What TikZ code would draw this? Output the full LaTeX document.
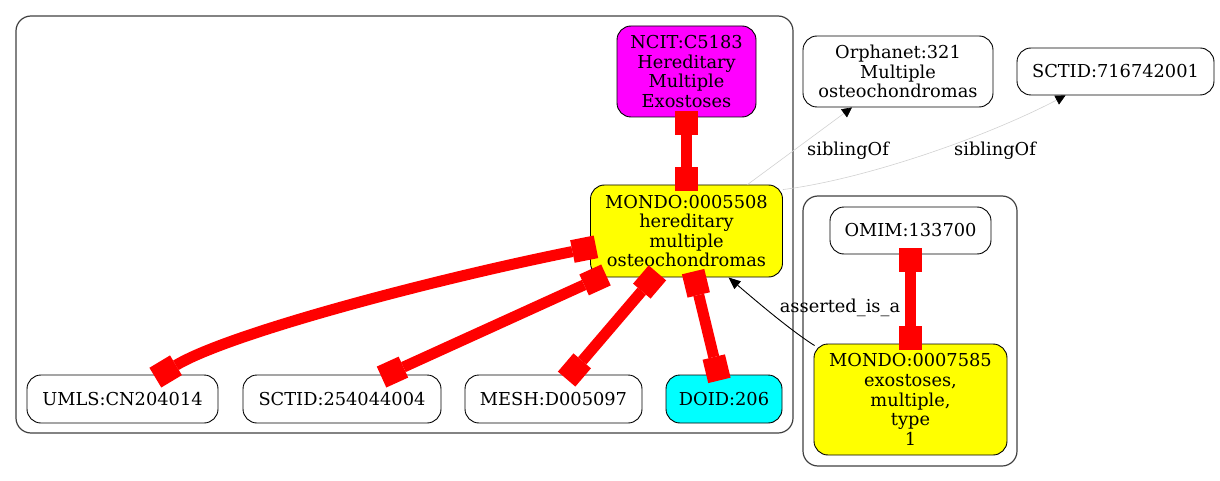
\documentclass[tikz,border=0pt]{standalone}
\usepackage{fontspec}
\setmainfont{DejaVu Serif}
\usetikzlibrary{arrows.meta}
\definecolor{gvmagenta}{RGB}{255,0,255}
\definecolor{gvyellow}{RGB}{255,255,0}
\definecolor{gvcyan}{RGB}{0,255,255}
\definecolor{gvred}{RGB}{255,0,0}
\begin{document}
\begin{tikzpicture}[x=1pt,y=-1pt,
  every node/.style={font=\fontsize{17.8}{19.6}\selectfont},
  nd/.style 2 args={draw=black,line width=0.9pt,rounded corners=14pt,align=center,inner sep=0pt,minimum width=#1,minimum height=#2},
  cluster/.style={draw=black!75,line width=1.2pt,rounded corners=15pt},
  redlink/.style={draw=gvred,line width=11pt,
    {Square[length=24pt,width=23pt,line width=0pt]}-{Square[length=24pt,width=23pt,line width=0pt]},
    shorten <=-6pt,shorten >=-6pt},
  sib/.style={draw=black!18,line width=0.6pt,-{Triangle[length=10pt,width=10pt,color=black]}},
  isa/.style={draw=black,line width=0.9pt,-{Triangle[length=12pt,width=10pt]}},
  lbl/.style={inner sep=0pt}
]
\useasboundingbox (0,0) rectangle (1220,481);
% clusters
\draw[cluster] (16,16) rectangle (793,433);
\draw[cluster] (803,196) rectangle (1017,466);
% nodes
\node[nd={139pt}{91pt},fill=gvmagenta] (ncit) at (686.5,71.5) {NCIT:C5183\\Hereditary\\Multiple\\Exostoses};
\node[nd={192pt}{92pt},fill=gvyellow] (m) at (686.5,231) {MONDO:0005508\\hereditary\\multiple\\osteochondromas};
\node[nd={191pt}{48pt}] (umls) at (122.5,399) {UMLS:CN204014};
\node[nd={198pt}{48pt}] (sct) at (342,399) {SCTID:254044004};
\node[nd={177pt}{48pt}] (mesh) at (553.5,399) {MESH:D005097};
\node[nd={116pt}{48pt},fill=gvcyan] (doid) at (724,399) {DOID:206};
\node[nd={190pt}{71pt}] (orpha) at (898,71.5) {Orphanet:321\\Multiple\\osteochondromas};
\node[nd={197pt}{47pt}] (sct2) at (1115.5,71.5) {SCTID:716742001};
\node[nd={161pt}{47pt}] (omim) at (910.5,230.5) {OMIM:133700};
\node[nd={193pt}{111pt},fill=gvyellow] (m2) at (910.5,399.5) {MONDO:0007585\\exostoses,\\multiple,\\type\\1};
% red equivalence edges
\draw[redlink] (ncit.south) -- (m.north);
\draw[redlink] (m.190) .. controls +(-150,30) and +(70,-42) .. ([xshift=38pt]umls.north);
\draw[redlink] ([xshift=-86pt]m.south) -- ([xshift=45pt]sct.north);
\draw[redlink] ([xshift=-33pt]m.south) -- ([xshift=17pt]mesh.north);
\draw[redlink] ([xshift=8pt]m.south) -- ([xshift=-6pt]doid.north);
\draw[redlink] (omim.south) -- (m2.north);
% siblingOf edges
\draw[sib] ([xshift=61pt]m.north) -- ([xshift=-46pt]orpha.south);
\draw[sib] ([yshift=-5pt]m.north east) .. controls (860,180) and (980,140) .. ([xshift=-50pt]sct2.south);
\node[lbl] (l1) at (848,151) {siblingOf};
\node[lbl] (l2) at (995,151) {siblingOf};
% asserted_is_a
\draw[isa] ([xshift=1pt,yshift=-2pt]m2.north west) .. controls (790,330) and (755,300) .. ([xshift=42pt]m.south);
\node[lbl] (l3) at (840,308) {asserted\_is\_a};
\end{tikzpicture}
\end{document}
